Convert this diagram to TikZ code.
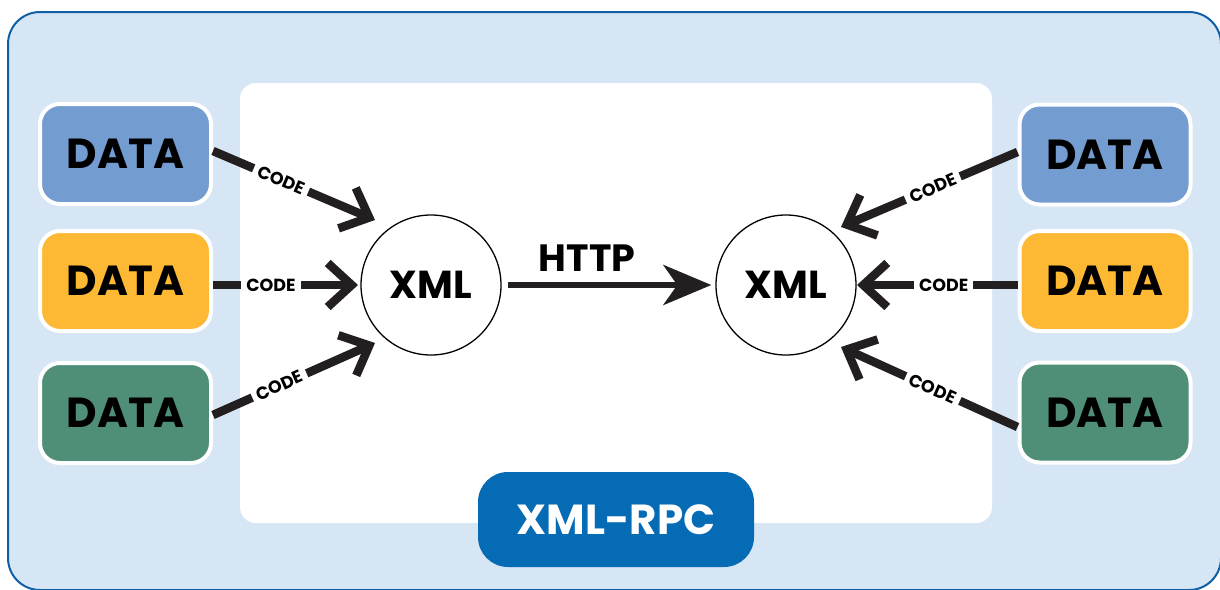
\documentclass[tikz,border=0pt]{standalone}
\usepackage{fontspec}
\setmainfont{Poppins}
\usetikzlibrary{arrows.meta,calc}
\definecolor{bgblue}{HTML}{D6E6F5}
\definecolor{frameblue}{HTML}{0F5FA6}
\definecolor{datablue}{HTML}{739CD1}
\definecolor{datayellow}{HTML}{FDB933}
\definecolor{datagreen}{HTML}{4F8F78}
\definecolor{rpcblue}{HTML}{066BB5}
\definecolor{ink}{HTML}{231F20}
\begin{document}
\begin{tikzpicture}[x=1pt,y=-1pt,
  databox/.style={draw=white, line width=4pt, rounded corners=20pt,
    minimum width=171pt, minimum height=100pt, inner sep=0pt,
    font=\fontsize{42}{42}\selectfont\bfseries, text=black},
  xmlnode/.style={circle, draw=black, line width=1.3pt, fill=white,
    minimum size=140pt, inner sep=0pt,
    font=\fontsize{39}{39}\selectfont\bfseries, text=black},
  codearrow/.style={line width=8.5pt, draw=ink,
    -{Straight Barb[length=24pt,width=44pt]}},
  codelabel/.style={sloped, fill=white, inner xsep=5pt, inner ysep=2pt,
    font=\fontsize{17.5}{17.5}\selectfont\bfseries, text=black},
  httparrow/.style={line width=6.5pt, draw=ink,
    -{Stealth[length=48pt,width=40pt,inset=14pt]}},
  rpcbox/.style={fill=rpcblue, rounded corners=30pt, minimum width=276pt,
    minimum height=95pt, inner sep=0pt, text=white,
    font=\fontsize{42}{42}\selectfont\bfseries}
]
\useasboundingbox (0,0) rectangle (1220,589);
% background panels
\draw[fill=bgblue, draw=frameblue, line width=2pt, rounded corners=32pt]
  (8,12) rectangle (1221,590);
\fill[white, rounded corners=16pt] (240,83) rectangle (992,523);

% data boxes
\node[databox, fill=datablue]   (dl1) at (125.5,154) {DATA};
\node[databox, fill=datayellow] (dl2) at (125.5,281) {DATA};
\node[databox, fill=datagreen]  (dl3) at (125.5,413) {DATA};
\node[databox, fill=datablue]   (dr1) at (1105,154.5) {DATA};
\node[databox, fill=datayellow] (dr2) at (1105,281) {DATA};
\node[databox, fill=datagreen]  (dr3) at (1105,412.5) {DATA};

% xml circles
\node[xmlnode] (xl) at (431,285) {XML};
\node[xmlnode] (xr) at (786,285) {XML};

% arrow tips
\coordinate (tl1) at (375,220);
\coordinate (tl2) at (358,285);
\coordinate (tl3) at (375,343);
\coordinate (tr1) at (841,227);
\coordinate (tr2) at (857,285);
\coordinate (tr3) at (841,347);

% code arrows
\draw[codearrow] ($(dl1.east)+(0,-3)$) -- node[codelabel, pos=0.42] (c1) {CODE} (tl1);
\draw[codearrow] ($(dl2.east)+(0,4)$) -- node[codelabel, pos=0.40] (c2) {CODE} (tl2);
\draw[codearrow] ($(dl3.east)+(0,2)$) -- node[codelabel, pos=0.41] (c3) {CODE} (tl3);
\draw[codearrow] ($(dr1.west)+(0,-2.5)$) -- node[codelabel, pos=0.48] (c4) {CODE} (tr1);
\draw[codearrow] ($(dr2.west)+(0,4)$) -- node[codelabel, pos=0.46] (c5) {CODE} (tr2);
\draw[codearrow] ($(dr3.west)+(0,14.5)$) -- node[codelabel, pos=0.48] (c6) {CODE} (tr3);

% http arrow
\draw[httparrow, shorten <=6pt, shorten >=4pt] (xl.east) --
  node[pos=0.4, above=10pt, inner sep=0pt, font=\fontsize{38}{38}\selectfont\bfseries] (http) {HTTP} (xr.west);

% xml-rpc label
\node[rpcbox] (rpc) at (616,519.5) {XML-RPC};
\end{tikzpicture}
\end{document}
